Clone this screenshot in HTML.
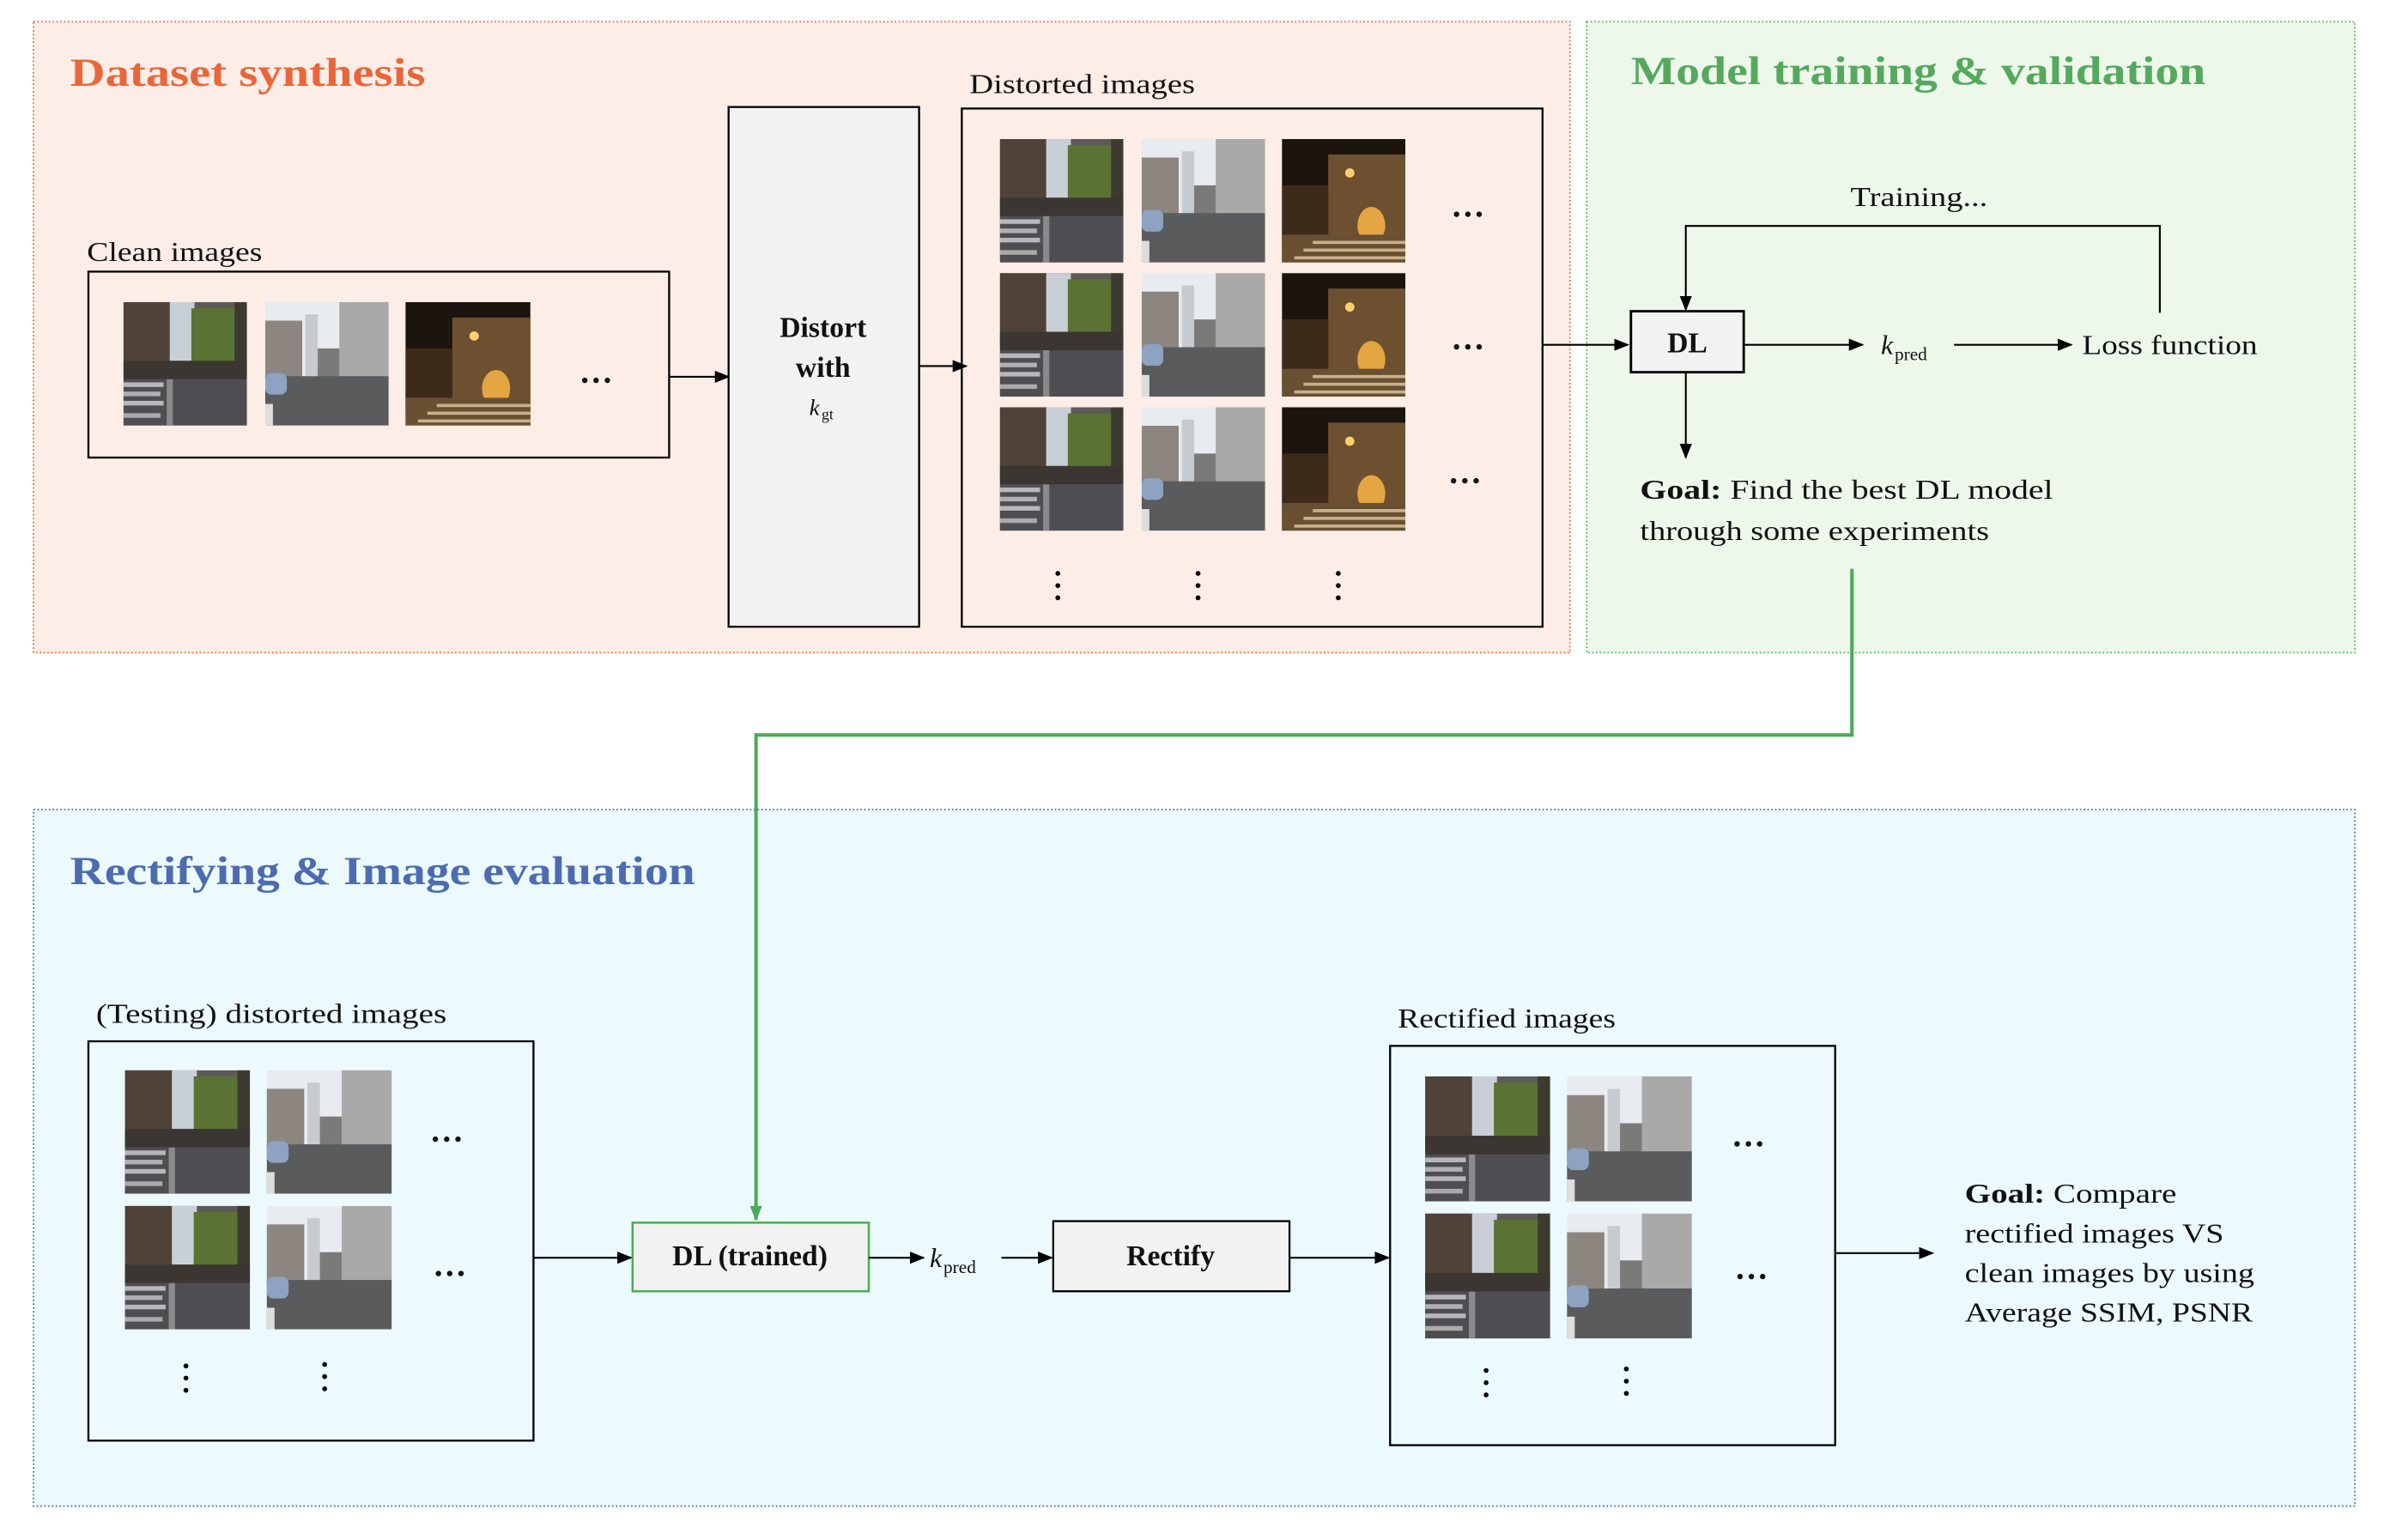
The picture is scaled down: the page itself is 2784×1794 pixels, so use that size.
<!DOCTYPE html>
<html><head><meta charset="utf-8"><style>
html,body{margin:0;padding:0;background:#fff;}
svg{display:block;}
text{font-family:"Liberation Serif",serif;fill:#111;}
.b{font-weight:bold;}
</style></head><body>
<svg width="2784" height="1794" viewBox="0 0 1568 1010" xmlns="http://www.w3.org/2000/svg">
<defs>
<marker id="ah" markerWidth="10" markerHeight="8" refX="9" refY="4" orient="auto" markerUnits="userSpaceOnUse">
<path d="M0,0 L10,4 L0,8 z" fill="#000"/></marker>
<marker id="ahg" markerWidth="10" markerHeight="8" refX="9" refY="4" orient="auto" markerUnits="userSpaceOnUse">
<path d="M0,0 L10,4 L0,8 z" fill="#4caa57"/></marker>
<symbol id="A" viewBox="0 0 80 80" preserveAspectRatio="none">
<rect width="80" height="80" fill="#5d5a57"/>
<rect x="28" y="0" width="18" height="42" fill="#c9cfd6"/>
<rect x="0" y="0" width="30" height="48" fill="#4f4238"/>
<rect x="44" y="4" width="30" height="42" fill="#5a7233"/>
<rect x="72" y="0" width="8" height="46" fill="#3d3a30"/>
<rect x="0" y="38" width="80" height="12" fill="#3b3631"/>
<rect x="0" y="50" width="80" height="30" fill="#4e4e52"/>
<rect x="0" y="52" width="26" height="3" fill="#b8b8bc"/>
<rect x="0" y="58" width="24" height="3" fill="#b0b0b4"/>
<rect x="0" y="64" width="26" height="3" fill="#b8b8bc"/>
<rect x="0" y="72" width="24" height="3" fill="#aaa"/>
<rect x="28" y="50" width="4" height="30" fill="#8a8a8a"/>
</symbol>
<symbol id="B" viewBox="0 0 80 80" preserveAspectRatio="none">
<rect width="80" height="80" fill="#e8ebef"/>
<rect x="0" y="12" width="24" height="40" fill="#8d8580"/>
<rect x="26" y="8" width="8" height="40" fill="#c6cbd0"/>
<rect x="48" y="0" width="32" height="52" fill="#a9a9a9"/>
<rect x="34" y="30" width="14" height="20" fill="#7a7a78"/>
<rect x="0" y="48" width="80" height="32" fill="#5a5b5d"/>
<rect x="0" y="46" width="14" height="14" rx="4" fill="#8ea3c2"/>
<rect x="0" y="66" width="5" height="14" fill="#ddd"/>
</symbol>
<symbol id="C" viewBox="0 0 80 80" preserveAspectRatio="none">
<rect width="80" height="80" fill="#1c140e"/>
<rect x="30" y="10" width="50" height="60" fill="#6d5030"/>
<rect x="0" y="30" width="30" height="40" fill="#3e2a18"/>
<ellipse cx="58" cy="56" rx="9" ry="12" fill="#e4a642"/>
<circle cx="44" cy="22" r="3" fill="#ffd070"/>
<rect x="0" y="62" width="80" height="18" fill="#6a5033"/>
<rect x="20" y="66" width="60" height="2" fill="#c9b28a"/>
<rect x="14" y="71" width="66" height="2" fill="#c9b28a"/>
<rect x="8" y="76" width="72" height="2" fill="#c9b28a"/>
</symbol>
</defs>

<rect x="22" y="14" width="1008" height="414" fill="#fcede6" stroke="#e8693a" stroke-width="1" stroke-dasharray="1 1.5"/>
<rect x="1041" y="14" width="504" height="414" fill="#edf7ea" stroke="#55b060" stroke-width="1" stroke-dasharray="1 1.5"/>
<rect x="22" y="531" width="1523" height="457" fill="#ecfafd" stroke="#4a6fb5" stroke-width="1" stroke-dasharray="1 1.5"/>

<text x="46" y="56" font-size="26" class="b" style="fill:#e8673a" textLength="233" lengthAdjust="spacingAndGlyphs">Dataset synthesis</text>
<text x="1070" y="55" font-size="26" class="b" style="fill:#55a95d" textLength="377" lengthAdjust="spacingAndGlyphs">Model training &amp; validation</text>
<text x="46" y="580" font-size="26" class="b" style="fill:#4d6bb0" textLength="410" lengthAdjust="spacingAndGlyphs">Rectifying &amp; Image evaluation</text>

<g stroke="#000" stroke-width="1.3" fill="none">
<rect x="58" y="178" width="381" height="122"/>
<rect x="478" y="70" width="125" height="341" fill="#f2f2f2"/>
<rect x="631" y="71" width="381" height="340"/>
<rect x="1070" y="204" width="74" height="40" fill="#f2f2f2" stroke-width="1.6"/>
<rect x="58" y="683" width="292" height="262"/>
<rect x="691" y="801" width="155" height="46" fill="#f2f2f2"/>
<rect x="912" y="686" width="292" height="262"/>
</g>
<rect x="415" y="802" width="155" height="45" fill="#f2f2f2" stroke="#4caa57" stroke-width="1.4"/>

<text x="57" y="171" font-size="18" textLength="115" lengthAdjust="spacingAndGlyphs">Clean images</text>
<use href="#A" x="81" y="198" width="81" height="81"/>
<use href="#B" x="174" y="198" width="81" height="81"/>
<use href="#C" x="266" y="198" width="82" height="81"/>
<text x="380" y="251" font-size="22" class="b">…</text>

<text x="540" y="221" font-size="19" class="b" text-anchor="middle">Distort</text>
<text x="540" y="247" font-size="19" class="b" text-anchor="middle">with</text>
<text x="531" y="272" font-size="15" font-style="italic">k</text><text x="539" y="275" font-size="10">gt</text>

<text x="636" y="61" font-size="18" textLength="148" lengthAdjust="spacingAndGlyphs">Distorted images</text>
<g>
<use href="#A" x="656" y="91" width="81" height="81"/><use href="#B" x="749" y="91" width="81" height="81"/><use href="#C" x="841" y="91" width="81" height="81"/>
<use href="#A" x="656" y="179" width="81" height="81"/><use href="#B" x="749" y="179" width="81" height="81"/><use href="#C" x="841" y="179" width="81" height="81"/>
<use href="#A" x="656" y="267" width="81" height="81"/><use href="#B" x="749" y="267" width="81" height="81"/><use href="#C" x="841" y="267" width="81" height="81"/>
</g>
<text x="952" y="142" font-size="22" class="b">…</text>
<text x="952" y="229" font-size="22" class="b">…</text>
<text x="950" y="317" font-size="22" class="b">…</text>
<g fill="#000">
<circle cx="694" cy="376" r="1.6"/><circle cx="694" cy="384" r="1.6"/><circle cx="694" cy="392" r="1.6"/>
<circle cx="786" cy="376" r="1.6"/><circle cx="786" cy="384" r="1.6"/><circle cx="786" cy="392" r="1.6"/>
<circle cx="878" cy="376" r="1.6"/><circle cx="878" cy="384" r="1.6"/><circle cx="878" cy="392" r="1.6"/>
<circle cx="122" cy="896" r="1.6"/><circle cx="122" cy="904" r="1.6"/><circle cx="122" cy="912" r="1.6"/>
<circle cx="213" cy="895" r="1.6"/><circle cx="213" cy="903" r="1.6"/><circle cx="213" cy="911" r="1.6"/>
<circle cx="975" cy="899" r="1.6"/><circle cx="975" cy="907" r="1.6"/><circle cx="975" cy="915" r="1.6"/>
<circle cx="1067" cy="898" r="1.6"/><circle cx="1067" cy="906" r="1.6"/><circle cx="1067" cy="914" r="1.6"/>
</g>

<text x="1214" y="135" font-size="18" textLength="90" lengthAdjust="spacingAndGlyphs">Training...</text>
<text x="1107" y="231" font-size="19" class="b" text-anchor="middle">DL</text>
<text x="1234" y="232" font-size="18" font-style="italic">k</text><text x="1243" y="236" font-size="12">pred</text>
<text x="1366" y="232" font-size="18" textLength="115" lengthAdjust="spacingAndGlyphs">Loss function</text>
<text x="1076" y="327" font-size="18" textLength="271" lengthAdjust="spacingAndGlyphs"><tspan class="b">Goal:</tspan> Find the best DL model</text>
<text x="1076" y="354" font-size="18" textLength="229" lengthAdjust="spacingAndGlyphs">through some experiments</text>

<g stroke="#000" stroke-width="1.2" fill="none" marker-end="url(#ah)">
<line x1="439" y1="247" x2="478" y2="247"/>
<line x1="603" y1="240" x2="634" y2="240"/>
<line x1="1012" y1="226" x2="1068" y2="226"/>
<polyline points="1417,205 1417,148 1106,148 1106,203"/>
<line x1="1144" y1="226" x2="1222" y2="226"/>
<line x1="1282" y1="226" x2="1359" y2="226"/>
<line x1="1106" y1="244" x2="1106" y2="300"/>
<line x1="350" y1="825" x2="414" y2="825"/>
<line x1="570" y1="825" x2="606" y2="825"/>
<line x1="657" y1="825" x2="690" y2="825"/>
<line x1="846" y1="825" x2="911" y2="825"/>
<line x1="1204" y1="822" x2="1268" y2="822"/>
</g>
<polyline points="1215,373 1215,482 496,482 496,800" stroke="#4caa57" stroke-width="2.3" fill="none" marker-end="url(#ahg)"/>

<text x="63" y="671" font-size="18" textLength="230" lengthAdjust="spacingAndGlyphs">(Testing) distorted images</text>
<use href="#A" x="82" y="702" width="82" height="81"/><use href="#B" x="175" y="702" width="82" height="81"/>
<use href="#A" x="82" y="791" width="82" height="81"/><use href="#B" x="175" y="791" width="82" height="81"/>
<text x="282" y="749" font-size="22" class="b">…</text>
<text x="284" y="837" font-size="22" class="b">…</text>

<text x="492" y="830" font-size="19" class="b" text-anchor="middle">DL (trained)</text>
<text x="610" y="831" font-size="18" font-style="italic">k</text><text x="619" y="835" font-size="12">pred</text>
<text x="768" y="830" font-size="19" class="b" text-anchor="middle">Rectify</text>

<text x="917" y="674" font-size="18" textLength="143" lengthAdjust="spacingAndGlyphs">Rectified images</text>
<use href="#A" x="935" y="706" width="82" height="82"/><use href="#B" x="1028" y="706" width="82" height="82"/>
<use href="#A" x="935" y="796" width="82" height="82"/><use href="#B" x="1028" y="796" width="82" height="82"/>
<text x="1136" y="752" font-size="22" class="b">…</text>
<text x="1138" y="839" font-size="22" class="b">…</text>

<text x="1289" y="789" font-size="18" textLength="139" lengthAdjust="spacingAndGlyphs"><tspan class="b">Goal:</tspan> Compare</text>
<text x="1289" y="815" font-size="18" textLength="170" lengthAdjust="spacingAndGlyphs">rectified images VS</text>
<text x="1289" y="841" font-size="18" textLength="190" lengthAdjust="spacingAndGlyphs">clean images by using</text>
<text x="1289" y="867" font-size="18" textLength="189" lengthAdjust="spacingAndGlyphs">Average SSIM, PSNR</text>
</svg>
</body></html>
